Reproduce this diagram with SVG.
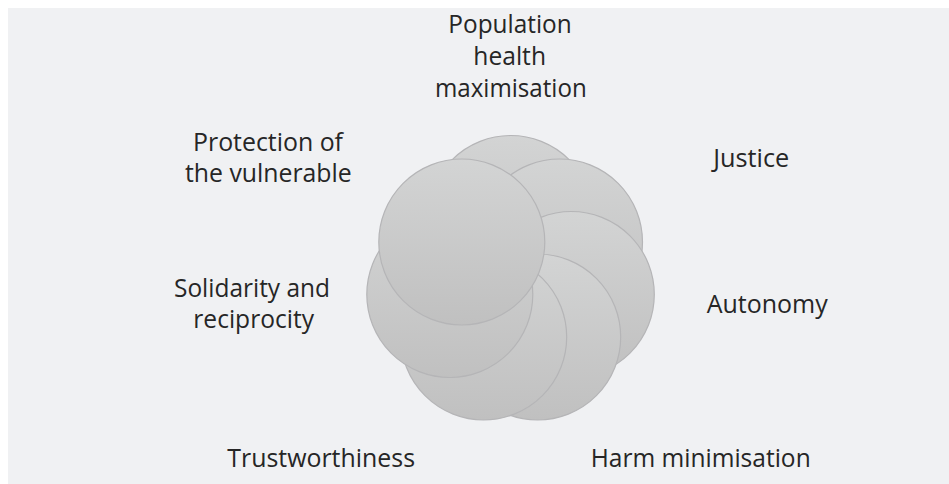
<svg xmlns="http://www.w3.org/2000/svg" width="949" height="484" viewBox="0 0 949 484">
<defs>
<linearGradient id="g" x1="0" y1="0" x2="0" y2="1">
<stop offset="0" stop-color="#d3d4d4"/>
<stop offset="1" stop-color="#c0c0c0"/>
</linearGradient>
</defs>
<style>
.c{fill:url(#g);stroke:#b5b5b7;stroke-width:1.2}
.t{font-family:"Open Sans","Noto Sans","Liberation Sans",sans-serif;font-size:25px;fill:#262626}
</style>
<rect x="0" y="0" width="949" height="484" fill="#ffffff"/>
<rect x="8" y="8" width="941" height="476" fill="#f0f1f3"/>
<g id="circles">
<g id="n-population"><circle class="c" cx="510.7" cy="218.5" r="83"/></g>
<g id="n-justice"><circle class="c" cx="559.5" cy="242" r="83"/></g>
<g id="n-autonomy"><circle class="c" cx="571.3" cy="294.5" r="83"/></g>
<g id="n-harm"><circle class="c" cx="537.7" cy="337" r="83"/></g>
<g id="n-trust"><circle class="c" cx="483.7" cy="337" r="83"/></g>
<g id="n-solidarity"><circle class="c" cx="449.8" cy="294.5" r="83"/></g>
<g id="n-protection"><circle class="c" cx="461.8" cy="242" r="83"/></g>
</g>
<g id="connectors"></g>
<g id="labels">
<g id="l-population">
<text class="t" x="448.3" y="33.3" textLength="123.4" lengthAdjust="spacingAndGlyphs">Population</text>
<text class="t" x="473.3" y="65" textLength="72.7" lengthAdjust="spacingAndGlyphs">health</text>
<text class="t" x="435" y="96.7" textLength="151.7" lengthAdjust="spacingAndGlyphs">maximisation</text>
</g>
<g id="l-protection">
<text class="t" x="193" y="151" textLength="150" lengthAdjust="spacingAndGlyphs">Protection of</text>
<text class="t" x="185" y="182.3" textLength="166.7" lengthAdjust="spacingAndGlyphs">the vulnerable</text>
</g>
<g id="l-justice"><text class="t" x="713.3" y="166.7" textLength="76" lengthAdjust="spacingAndGlyphs">Justice</text></g>
<g id="l-solidarity">
<text class="t" x="174" y="296.6" textLength="156" lengthAdjust="spacingAndGlyphs">Solidarity and</text>
<text class="t" x="193.3" y="328.2" textLength="120.7" lengthAdjust="spacingAndGlyphs">reciprocity</text>
</g>
<g id="l-autonomy"><text class="t" x="706.7" y="313.3" textLength="121" lengthAdjust="spacingAndGlyphs">Autonomy</text></g>
<g id="l-trust"><text class="t" x="227.3" y="466.7" textLength="187.7" lengthAdjust="spacingAndGlyphs">Trustworthiness</text></g>
<g id="l-harm"><text class="t" x="590.7" y="466.7" textLength="220" lengthAdjust="spacingAndGlyphs">Harm minimisation</text></g>
</g>
</svg>
